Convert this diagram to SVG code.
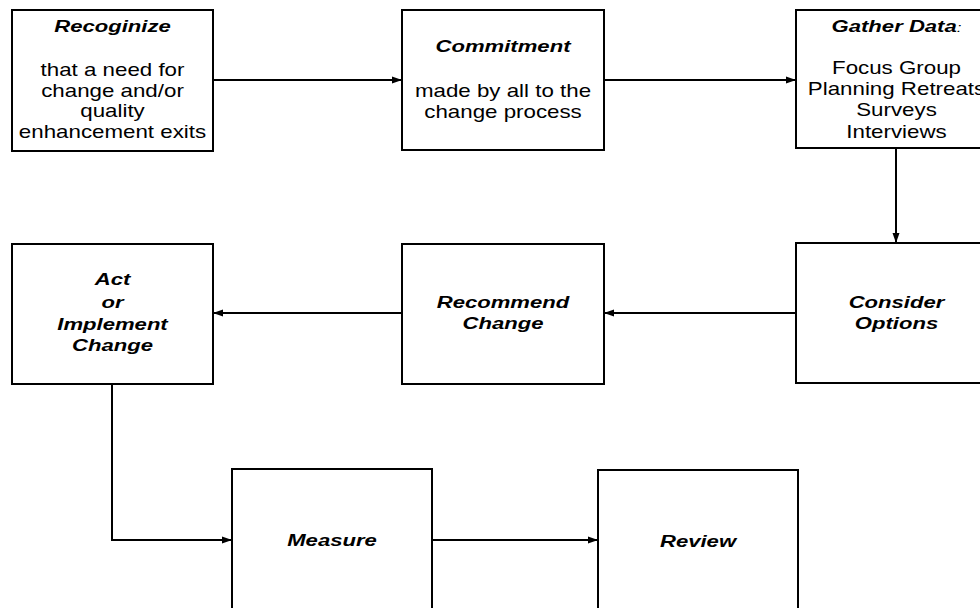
<svg xmlns="http://www.w3.org/2000/svg" width="980" height="608" viewBox="0 0 980 608">
  <style>
    .box { fill: #ffffff; stroke: #000000; stroke-width: 2; }
    .link { fill: none; stroke: #000000; stroke-width: 2; marker-end: url(#arrow); }
    text { font-family: "Liberation Sans", Arial, sans-serif; fill: #000000; text-anchor: middle; }
    .title { font-size: 17px; font-weight: bold; font-style: italic; }
    .body { font-size: 18px; }
    .colon { font-size: 13px; font-weight: normal; }
  </style>
  <defs>
    <marker id="arrow" markerUnits="userSpaceOnUse" markerWidth="10" markerHeight="8" refX="10" refY="4" orient="auto">
      <path d="M0,0.5 L10,4 L0,7.5 Z" fill="#000000"/>
    </marker>
  </defs>

  <rect width="980" height="608" fill="#ffffff"/>

  <!-- flow connectors -->
  <g id="connectors">
    <path class="link" d="M213,80 H402"/>
    <path class="link" d="M604,80 H796"/>
    <path class="link" d="M896,148 V243"/>
    <path class="link" d="M796,313 H604"/>
    <path class="link" d="M402,313 H213"/>
    <path class="link" d="M112,384 V540 H232"/>
    <path class="link" d="M432,540 H598"/>
  </g>

  <g id="recognize">
    <rect class="box" x="12" y="10" width="201" height="141"/>
    <g transform="translate(112.5 0) scale(1.3 1)">
      <text class="title" x="0" y="32">Recoginize</text>
    </g>
    <g transform="translate(112.5 0) scale(1.24 1)">
      <text class="body" x="0" y="76">that a need for</text>
      <text class="body" x="0" y="97">change and/or</text>
      <text class="body" x="0" y="117">quality</text>
      <text class="body" x="0" y="138">enhancement exits</text>
    </g>
  </g>

  <g id="commitment">
    <rect class="box" x="402" y="10" width="202" height="140"/>
    <g transform="translate(503 0) scale(1.3 1)">
      <text class="title" x="0" y="52">Commitment</text>
    </g>
    <g transform="translate(503 0) scale(1.24 1)">
      <text class="body" x="0" y="97">made by all to the</text>
      <text class="body" x="0" y="118">change process</text>
    </g>
  </g>

  <g id="gather-data">
    <rect class="box" x="796" y="10" width="201" height="138"/>
    <g transform="translate(896.5 0) scale(1.3 1)">
      <text class="title" x="0" y="32">Gather Data<tspan class="colon">:</tspan></text>
    </g>
    <g transform="translate(896.5 0) scale(1.24 1)">
      <text class="body" x="0" y="74">Focus Group</text>
      <text class="body" x="0" y="95">Planning Retreats</text>
      <text class="body" x="0" y="116">Surveys</text>
      <text class="body" x="0" y="138">Interviews</text>
    </g>
  </g>

  <g id="consider-options">
    <rect class="box" x="796" y="243" width="201" height="140"/>
    <g transform="translate(896.5 0) scale(1.3 1)">
      <text class="title" x="0" y="308">Consider</text>
      <text class="title" x="0" y="329">Options</text>
    </g>
  </g>

  <g id="recommend-change">
    <rect class="box" x="402" y="244" width="202" height="140"/>
    <g transform="translate(503 0) scale(1.3 1)">
      <text class="title" x="0" y="308">Recommend</text>
      <text class="title" x="0" y="329">Change</text>
    </g>
  </g>

  <g id="act-implement">
    <rect class="box" x="12" y="244" width="201" height="140"/>
    <g transform="translate(112.5 0) scale(1.3 1)">
      <text class="title" x="0" y="285">Act</text>
      <text class="title" x="0" y="308">or</text>
      <text class="title" x="0" y="330">Implement</text>
      <text class="title" x="0" y="351">Change</text>
    </g>
  </g>

  <g id="measure">
    <rect class="box" x="232" y="469" width="200" height="142"/>
    <g transform="translate(332 0) scale(1.3 1)">
      <text class="title" x="0" y="546">Measure</text>
    </g>
  </g>

  <g id="review">
    <rect class="box" x="598" y="470" width="200" height="141"/>
    <g transform="translate(698 0) scale(1.3 1)">
      <text class="title" x="0" y="547">Review</text>
    </g>
  </g>
</svg>
